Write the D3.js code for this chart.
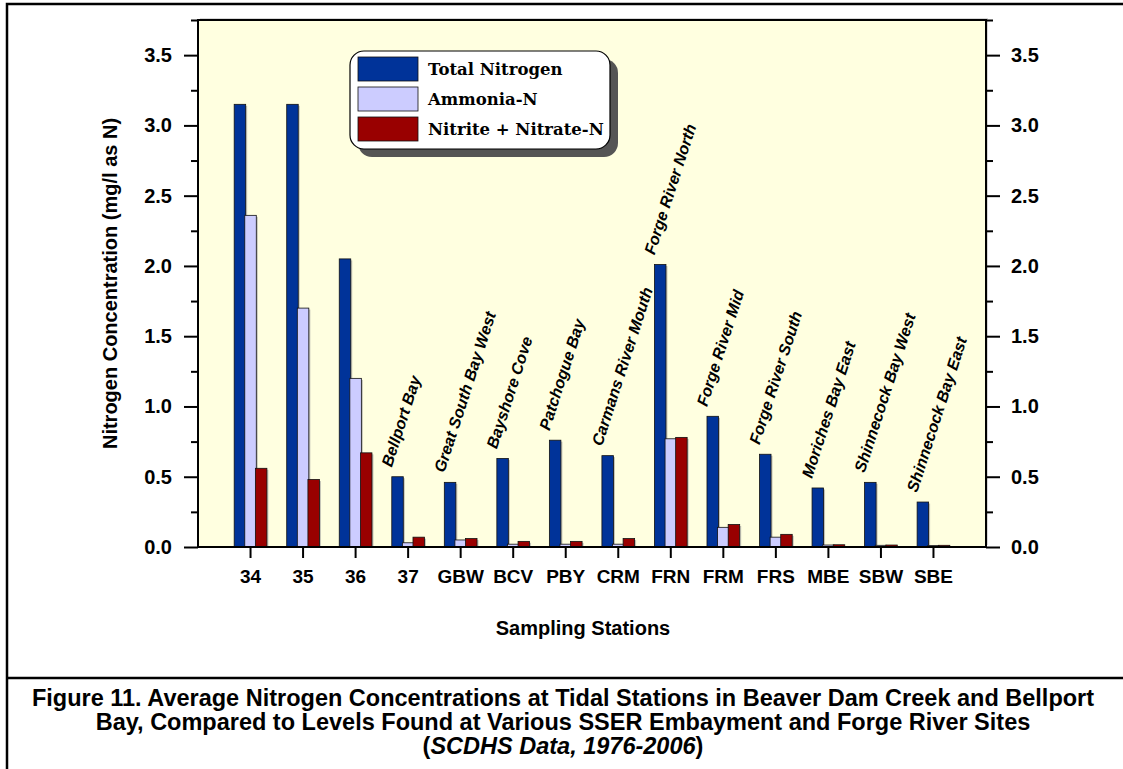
<!DOCTYPE html>
<html>
<head>
<meta charset="utf-8">
<script src="https://cdn.jsdelivr.net/npm/d3@7"></script>
<style>
  html, body { margin: 0; padding: 0; background: #ffffff; }
  svg { display: block; font-family: Arial, "Liberation Sans", sans-serif; }
</style>
</head>
<body>
<svg id="chart" width="1123" height="769"></svg>
<script>
// ---- Data ----
const stations = ["34", "35", "36", "37", "GBW", "BCV", "PBY", "CRM", "FRN", "FRM", "FRS", "MBE", "SBW", "SBE"];
const stationNames = ["", "", "", "Bellport Bay", "Great South Bay West", "Bayshore Cove", "Patchogue Bay",
  "Carmans River Mouth", "Forge River North", "Forge River Mid", "Forge River South",
  "Moriches Bay East", "Shinnecock Bay West", "Shinnecock Bay East"];
const totalNitrogen = [3.15, 3.15, 2.05, 0.50, 0.46, 0.63, 0.76, 0.65, 2.01, 0.93, 0.66, 0.42, 0.46, 0.32];
const ammoniaN      = [2.36, 1.70, 1.20, 0.03, 0.05, 0.02, 0.02, 0.02, 0.77, 0.14, 0.07, 0.014, 0.012, 0.01];
const nitriteNitrate = [0.56, 0.48, 0.67, 0.07, 0.06, 0.04, 0.04, 0.06, 0.78, 0.16, 0.09, 0.016, 0.014, 0.012];
const seriesNames = ["Total Nitrogen", "Ammonia-N", "Nitrite + Nitrate-N"];
const seriesColors = ["#003399", "#CCCCFF", "#990000"];
const yMajorTicks = [0, 0.5, 1.0, 1.5, 2.0, 2.5, 3.0, 3.5];
const yMinorTicks = [0.25, 0.75, 1.25, 1.75, 2.25, 2.75, 3.25, 3.75];
const yTitle = "Nitrogen Concentration (mg/l as N)";
const xTitle = "Sampling Stations";
const captionLines = [
  "Figure 11. Average Nitrogen Concentrations at Tidal Stations in Beaver Dam Creek and Bellport",
  "Bay, Compared to Levels Found at Various SSER Embayment and Forge River Sites"
];

// ---- Layout ----
const svg = d3.select("#chart");
const plot = { left: 198, right: 986, top: 20, bottom: 547 };

const x = d3.scaleBand().domain(stations).range([plot.left, plot.right]).paddingInner(0).paddingOuter(0.5);
const y = d3.scaleLinear().domain([0, 3.75]).range([plot.bottom, plot.top]);

// Outer frame (right and bottom edges fall outside the picture)
svg.append("rect").attr("x", 7).attr("y", 4).attr("width", 1130).attr("height", 780)
  .attr("fill", "none").attr("stroke", "#000").attr("stroke-width", 2.5);
svg.append("line").attr("x1", 7).attr("x2", 1123).attr("y1", 678).attr("y2", 678)
  .attr("stroke", "#000").attr("stroke-width", 2.5);

// Plot background
svg.append("rect").attr("x", plot.left + 2).attr("y", plot.top - 2)
  .attr("width", plot.right - plot.left).attr("height", plot.bottom - plot.top)
  .attr("fill", "#d8d8d8");
svg.append("rect").attr("x", plot.left).attr("y", plot.top)
  .attr("width", plot.right - plot.left).attr("height", plot.bottom - plot.top)
  .attr("fill", "#FFFFE0");

// Bars
const barW = 11.5, barStep = 10.6;
const series = [totalNitrogen, ammoniaN, nitriteNitrate];
const groupCenter = d => x(d) + x.bandwidth() / 2;
series.forEach((vals, si) => {
  const off = (si - 1) * barStep - barW / 2;
  const g = svg.append("g");
  g.selectAll("rect.sh").data(stations).join("rect")
    .attr("class", "sh")
    .attr("x", d => groupCenter(d) + off + 1.5)
    .attr("y", (d, i) => y(vals[i]) + 1.5)
    .attr("width", barW)
    .attr("height", (d, i) => Math.max(0, y(0) - y(vals[i]) - 1.5))
    .attr("fill", "#999")
    .attr("opacity", 0.6);
  g.selectAll("rect.bar").data(stations).join("rect")
    .attr("class", "bar")
    .attr("x", d => groupCenter(d) + off)
    .attr("y", (d, i) => y(vals[i]))
    .attr("width", barW)
    .attr("height", (d, i) => y(0) - y(vals[i]))
    .attr("fill", seriesColors[si])
    .attr("stroke", "#111")
    .attr("stroke-width", 0.8);
});

// Plot frame
svg.append("rect").attr("x", plot.left).attr("y", plot.top)
  .attr("width", plot.right - plot.left).attr("height", plot.bottom - plot.top)
  .attr("fill", "none").attr("stroke", "#000").attr("stroke-width", 2);

// Y axes (left and right)
const fmt = d3.format(".1f");
const leftAxis = d3.axisLeft(y).tickValues(yMajorTicks).tickFormat(fmt).tickSize(14).tickPadding(12);
const rightAxis = d3.axisRight(y).tickValues(yMajorTicks).tickFormat(fmt).tickSize(14).tickPadding(11);
const leftMinor = d3.axisLeft(y).tickValues(yMinorTicks).tickFormat("").tickSize(7);
const rightMinor = d3.axisRight(y).tickValues(yMinorTicks).tickFormat("").tickSize(7);

function styleAxis(g, size) {
  g.select(".domain").remove();
  g.selectAll("line").attr("stroke", "#000").attr("stroke-width", 2);
  g.selectAll("text").attr("fill", "#000")
    .style("font-size", (size || 20) + "px").style("font-weight", "bold")
    .style("font-family", "Arial, 'Liberation Sans', sans-serif");
}
svg.append("g").attr("transform", `translate(${plot.left},0)`).call(leftAxis).call(styleAxis);
svg.append("g").attr("transform", `translate(${plot.left},0)`).call(leftMinor).call(styleAxis);
svg.append("g").attr("transform", `translate(${plot.right},0)`).call(rightAxis).call(styleAxis);
svg.append("g").attr("transform", `translate(${plot.right},0)`).call(rightMinor).call(styleAxis);

// X axis
const xAxis = d3.axisBottom(x).tickSize(11).tickPadding(12);
svg.append("g").attr("transform", `translate(0,${plot.bottom})`).call(xAxis).call(g => styleAxis(g, 19));

// Rotated station names
svg.append("g").selectAll("text").data(stations).join("text")
  .attr("transform", (d, i) => `translate(${groupCenter(d) - barStep - barW / 2},${y(totalNitrogen[i]) - 9}) rotate(-72)`)
  .style("font-size", "16px")
  .style("font-weight", "bold")
  .style("font-style", "italic")
  .attr("fill", "#000")
  .text((d, i) => stationNames[i]);

// Axis titles
svg.append("text")
  .attr("transform", `translate(117,${(plot.top + plot.bottom) / 2}) rotate(-90)`)
  .attr("text-anchor", "middle")
  .style("font-size", "20px").style("font-weight", "bold")
  .text(yTitle);
svg.append("text")
  .attr("x", 583).attr("y", 635)
  .attr("text-anchor", "middle")
  .style("font-size", "20px").style("font-weight", "bold")
  .text(xTitle);

// Caption
captionLines.forEach((line, i) => {
  svg.append("text")
    .attr("x", 563).attr("y", 706 + i * 24)
    .attr("text-anchor", "middle")
    .style("font-size", "23.5px").style("font-weight", "bold")
    .text(line);
});
const cap3 = svg.append("text").attr("x", 563).attr("y", 754)
  .attr("text-anchor", "middle").style("font-size", "23.5px").style("font-weight", "bold");
cap3.append("tspan").text("(");
cap3.append("tspan").style("font-style", "italic").text("SCDHS Data, 1976-2006");
cap3.append("tspan").text(")");

// Legend
const lg = svg.append("g").attr("transform", "translate(350,51)");
lg.append("rect").attr("x", 8).attr("y", 8).attr("width", 260).attr("height", 98).attr("rx", 14)
  .attr("fill", "#555");
lg.append("rect").attr("x", 0).attr("y", 0).attr("width", 260).attr("height", 98).attr("rx", 14)
  .attr("fill", "#fff").attr("stroke", "#000").attr("stroke-width", 1.2);
seriesNames.forEach((name, i) => {
  lg.append("rect").attr("x", 8).attr("y", 6 + i * 30).attr("width", 60).attr("height", 24)
    .attr("fill", seriesColors[i]).attr("stroke", "#111").attr("stroke-width", 0.8);
  lg.append("text").attr("x", 78).attr("y", 24 + i * 30)
    .style("font-family", "'DejaVu Serif', 'Liberation Serif', serif")
    .style("font-size", "16.5px").style("font-weight", "bold")
    .text(name);
});
</script>
</body>
</html>
